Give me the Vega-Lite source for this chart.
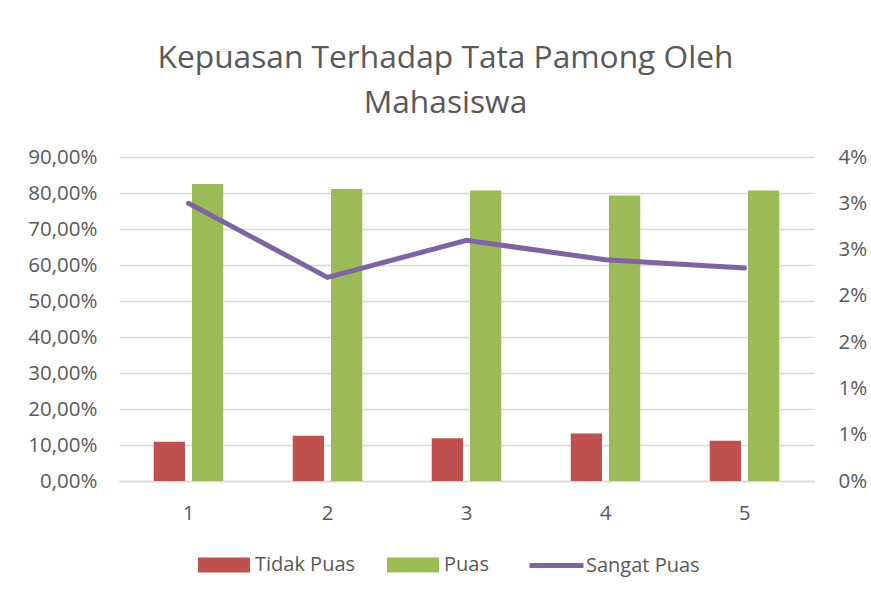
{
  "$schema": "https://vega.github.io/schema/vega-lite/v6.json",
  "autosize": {"type": "none"},
  "width": 695,
  "height": 324,
  "padding": {"left": 119, "top": 157, "right": 57, "bottom": 116},
  "background": "white",
  "title": {
    "text": ["Kepuasan Terhadap Tata Pamong Oleh", "Mahasiswa"],
    "font": "Open Sans",
    "fontSize": 31.7,
    "fontWeight": "normal",
    "color": "#595959",
    "lineHeight": 45,
    "anchor": "middle",
    "dx": -21,
    "offset": 27
  },
  "config": {
    "view": {"stroke": null},
    "axis": {"labelFont": "Open Sans", "labelFontSize": 20.5, "labelColor": "#595959"},
    "legend": {"labelFont": "Open Sans", "labelFontSize": 20, "labelColor": "#595959"}
  },
  "datasets": {
    "batang": [
      {"kategori": "1", "seri": "Tidak Puas", "nilai": 0.109},
      {"kategori": "1", "seri": "Puas", "nilai": 0.825},
      {"kategori": "2", "seri": "Tidak Puas", "nilai": 0.126},
      {"kategori": "2", "seri": "Puas", "nilai": 0.811},
      {"kategori": "3", "seri": "Tidak Puas", "nilai": 0.119},
      {"kategori": "3", "seri": "Puas", "nilai": 0.807},
      {"kategori": "4", "seri": "Tidak Puas", "nilai": 0.132},
      {"kategori": "4", "seri": "Puas", "nilai": 0.793},
      {"kategori": "5", "seri": "Tidak Puas", "nilai": 0.112},
      {"kategori": "5", "seri": "Puas", "nilai": 0.807}
    ],
    "garis": [
      {"kategori": "1", "nilai": 0.0300},
      {"kategori": "2", "nilai": 0.0220},
      {"kategori": "3", "nilai": 0.0260},
      {"kategori": "4", "nilai": 0.0239},
      {"kategori": "5", "nilai": 0.0230}
    ]
  },
  "layer": [
    {
      "data": {"name": "batang"},
      "mark": {"type": "bar"},
      "encoding": {
        "x": {
          "field": "kategori",
          "type": "nominal",
          "scale": {"paddingInner": 0.5, "paddingOuter": 0.25},
          "axis": {
            "title": null,
            "labelAngle": 0,
            "ticks": false,
            "grid": false,
            "domain": true,
            "domainColor": "#D9D9D9",
            "domainWidth": 1.5,
            "labelPadding": 22
          }
        },
        "xOffset": {
          "field": "seri",
          "type": "nominal",
          "sort": ["Tidak Puas", "Puas"],
          "scale": {"paddingInner": 0.183}
        },
        "y": {
          "field": "nilai",
          "type": "quantitative",
          "scale": {"domain": [0, 0.9], "nice": false},
          "axis": {
            "title": null,
            "values": [0, 0.1, 0.2, 0.3, 0.4, 0.5, 0.6, 0.7, 0.8, 0.9],
            "labelExpr": "replace(format(datum.value, '.2%'), '.', ',')",
            "grid": true,
            "gridColor": "#D9D9D9",
            "gridWidth": 1.5,
            "ticks": false,
            "domain": false,
            "labelPadding": 22
          }
        },
        "color": {
          "field": "seri",
          "type": "nominal",
          "sort": ["Tidak Puas", "Puas"],
          "scale": {"domain": ["Tidak Puas", "Puas"], "range": ["#C0504D", "#9BBB59"]},
          "legend": {
            "title": null,
            "orient": "none",
            "direction": "horizontal",
            "legendX": 79,
            "legendY": 382,
            "symbolType": "M-1,-0.29L1,-0.29L1,0.29L-1,0.29Z",
            "symbolSize": 2704,
            "symbolStrokeWidth": 0,
            "labelOffset": 5,
            "columnPadding": 31,
            "padding": 0
          }
        }
      }
    },
    {
      "data": {"name": "garis"},
      "mark": {"type": "line", "strokeWidth": 5, "strokeCap": "round"},
      "encoding": {
        "x": {"field": "kategori", "type": "nominal"},
        "y": {
          "field": "nilai",
          "type": "quantitative",
          "scale": {"domain": [0, 0.035], "nice": false},
          "axis": {
            "title": null,
            "orient": "right",
            "values": [0, 0.005, 0.01, 0.015, 0.02, 0.025, 0.03, 0.035],
            "labelExpr": "round(round(datum.value * 1000) / 10) + '%'",
            "grid": false,
            "ticks": false,
            "domain": false,
            "labelPadding": 24
          }
        },
        "stroke": {
          "datum": "Sangat Puas",
          "type": "nominal",
          "scale": {"range": ["#8064A2"]},
          "legend": {
            "title": null,
            "orient": "none",
            "legendX": 408,
            "legendY": 379,
            "symbolType": "stroke",
            "symbolSize": 2916,
            "symbolStrokeWidth": 5,
            "labelOffset": 0,
            "padding": 0
          }
        }
      }
    }
  ],
  "resolve": {"scale": {"y": "independent"}}
}
